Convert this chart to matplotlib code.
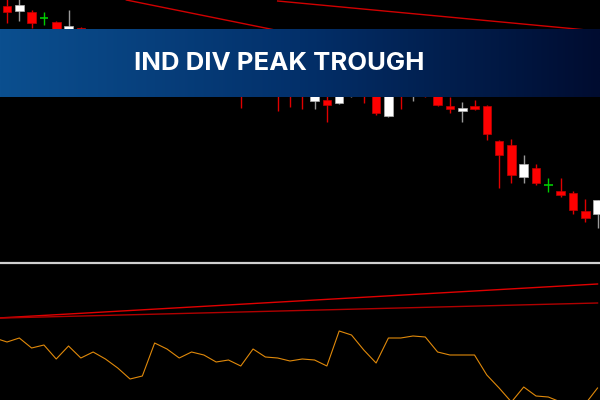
import numpy as np
import matplotlib
matplotlib.use('Agg')
import matplotlib.pyplot as plt
from matplotlib.colors import LinearSegmentedColormap

# candle data (price)
opens = [1.0844, 1.0839, 1.0838, 1.0832, 1.0828, 1.0814, 1.0822, 1.0802, 1.0810, 1.0795,
         1.0785, 1.0798, 1.0790, 1.0776, 1.0786, 1.0772, 1.0780, 1.0768, 1.0778, 1.0768,
         1.0762, 1.0758, 1.0766, 1.0764, 1.0762, 1.0749, 1.0750, 1.0747, 1.0754, 1.0760,
         1.0757, 1.0734, 1.0758, 1.0754, 1.0758, 1.0755, 1.0744, 1.0739, 1.0744, 1.0744,
         1.0709, 1.0705, 1.0673, 1.0682, 1.0665, 1.0659, 1.0657, 1.0639, 1.0636]
highs = [1.0853, 1.0854, 1.0840, 1.0838, 1.0829, 1.0840, 1.0823, 1.0815, 1.0813, 1.0800,
         1.0804, 1.0802, 1.0793, 1.0792, 1.0790, 1.0784, 1.0782, 1.0782, 1.0780, 1.0772,
         1.0766, 1.0770, 1.0770, 1.0768, 1.0765, 1.0762, 1.0754, 1.0760, 1.0762, 1.0764,
         1.0760, 1.0758, 1.0762, 1.0762, 1.0761, 1.0758, 1.0753, 1.0748, 1.0750, 1.0745,
         1.0710, 1.0711, 1.0695, 1.0686, 1.0672, 1.0672, 1.0659, 1.0651, 1.0650]
lows = [1.0827, 1.0829, 1.0822, 1.0825, 1.0815, 1.0810, 1.0805, 1.0798, 1.0790, 1.0782,
        1.0780, 1.0784, 1.0772, 1.0770, 1.0768, 1.0764, 1.0762, 1.0760, 1.0758, 1.0742,
        1.0754, 1.0754, 1.0739, 1.0743, 1.0741, 1.0741, 1.0728, 1.0746, 1.0753, 1.0747,
        1.0735, 1.0733, 1.0741, 1.0749, 1.0753, 1.0744, 1.0737, 1.0728, 1.0740, 1.0710,
        1.0662, 1.0667, 1.0667, 1.0665, 1.0658, 1.0653, 1.0636, 1.0628, 1.0622]
closes = [1.0838, 1.0845, 1.0827, 1.0832, 1.0818, 1.0824, 1.0812, 1.0810, 1.0795, 1.0788,
          1.0798, 1.0790, 1.0778, 1.0786, 1.0775, 1.0780, 1.0770, 1.0778, 1.0766, 1.0760,
          1.0756, 1.0764, 1.0757, 1.0756, 1.0755, 1.0758, 1.0745, 1.0756, 1.0760, 1.0754,
          1.0737, 1.0755, 1.0754, 1.0758, 1.0754, 1.0745, 1.0741, 1.0742, 1.0741, 1.0716,
          1.0695, 1.0675, 1.0686, 1.0667, 1.0665, 1.0655, 1.0640, 1.0632, 1.0650]

# trend lines on price (bar index, price)
price_line1_x = [9.7, 48]
price_line1_y = [1.0850, 1.0755]
price_line2_x = [22, 48]
price_line2_y = [1.0849, 1.0819]

# oscillator, starting one bar before the first visible candle
osc_x = list(range(-1, 49))
osc = [51.0, 49.0, 51.0, 46.0, 47.5, 40.5, 47.0, 41.0, 44.0, 40.5,
       36.0, 30.5, 32.0, 48.5, 45.5, 41.0, 44.0, 42.5, 39.0, 40.0,
       37.0, 45.5, 41.5, 41.0, 39.5, 40.5, 40.0, 37.0, 54.5, 52.5,
       45.0, 38.5, 51.0, 51.0, 52.0, 51.5, 44.0, 42.5, 42.5, 42.5,
       32.5, 26.0, 19.0, 26.5, 22.0, 21.5, 19.0, 17.5, 18.0, 26.0]
osc_line1_x = [-1, 48]
osc_line1_y = [60.9, 78.0]
osc_line2_x = [-1, 48]
osc_line2_y = [60.9, 68.5]

title = 'IND DIV PEAK TROUGH'

fig = plt.figure(figsize=(6, 4), dpi=100, facecolor='black')

ax = fig.add_axes([0, 0.345, 1, 0.655], facecolor='black')
ax2 = fig.add_axes([0, 0, 1, 0.3425], facecolor='black')

idx = np.arange(len(opens))
o = np.array(opens)
c = np.array(closes)
h = np.array(highs)
l = np.array(lows)

up = c > o
down = c < o
doji = c == o

ax.vlines(idx[down], l[down], h[down], color='#e00000', linewidth=1, zorder=1)
ax.vlines(idx[up], l[up], h[up], color='#9a9a9a', linewidth=1, zorder=1)
ax.vlines(idx[doji], l[doji], h[doji], color='#00cc00', linewidth=1, zorder=1)
ax.bar(idx[down], o[down] - c[down], bottom=c[down], width=0.7, color='#ff0000',
       edgecolor='#c00000', linewidth=0.5, zorder=2)
ax.bar(idx[up], c[up] - o[up], bottom=o[up], width=0.7, color='white',
       edgecolor='#b0b0b0', linewidth=0.5, zorder=2)
ax.hlines(c[doji], idx[doji] - 0.35, idx[doji] + 0.35, color='#00cc00', linewidth=1.2, zorder=2)

ax.plot(price_line1_x, price_line1_y, color='#d00000', linewidth=1)
ax.plot(price_line2_x, price_line2_y, color='#d00000', linewidth=1)

ax.set_xlim(-0.57, 48.2)
ax.set_ylim(1.0588, 1.0850)
ax.axis('off')

ax2.plot(osc_x, osc, color='#e0890a', linewidth=0.8)
ax2.plot(osc_line1_x, osc_line1_y, color='#e00000', linewidth=1)
ax2.plot(osc_line2_x, osc_line2_y, color='#b00000', linewidth=1)
ax2.set_xlim(-0.57, 48.2)
ax2.set_ylim(20, 88.5)
ax2.set_xticks([])
ax2.set_yticks([])
for s in ['left', 'right', 'bottom']:
    ax2.spines[s].set_visible(False)
ax2.spines['top'].set_color('#d0d0d0')
ax2.spines['top'].set_linewidth(1.6)

# title banner
bax = fig.add_axes([0, 303 / 400, 1, 68 / 400])
cmap = LinearSegmentedColormap.from_list('banner', ['#0b4f8f', '#03306a', '#000c30'])
bax.imshow(np.linspace(0, 1, 256).reshape(1, -1), aspect='auto', cmap=cmap,
           extent=[0, 1, 0, 1])
bax.set_xlim(0, 1)
bax.set_ylim(0, 1)
bax.axis('off')
bax.text(0.465, 0.5, title, color='white', fontsize=18.5, fontweight='bold',
         family='Inter', ha='center', va='center')

fig.savefig('out.png', dpi=100, facecolor='black')
